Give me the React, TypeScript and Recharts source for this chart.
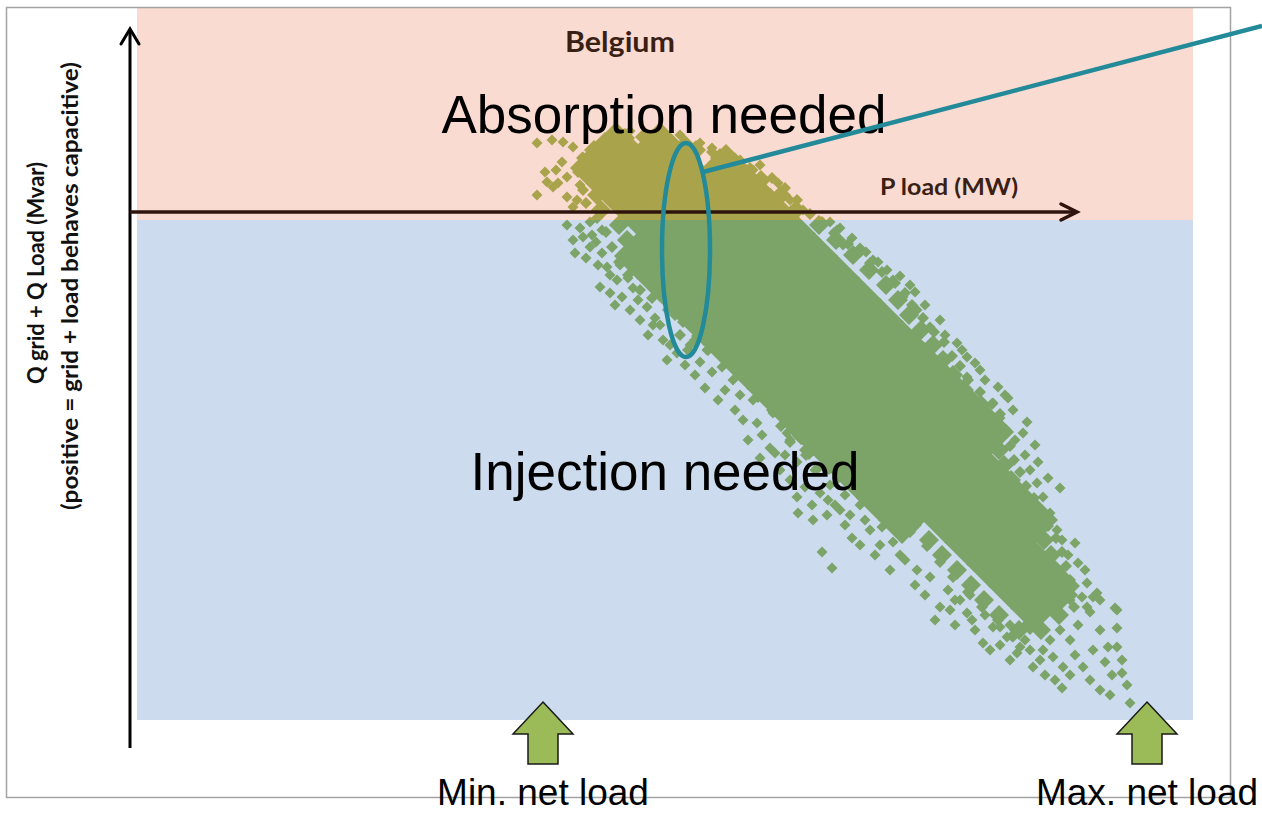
import { ReferenceArea, Scatter, ScatterChart, XAxis, YAxis } from "recharts";

// P load (x) against Q grid + Q load (y).
// x origin sits on the vertical axis, y origin on the P load axis.

// dense middle of the cloud
const denseCore: [number, number][] = [
  [485, 66], [529, 66],
  [463, 44], [507, 44], [551, 44], [595, 44],
  [485, 22], [529, 22], [573, 22], [617, 22],
  [507, 0], [551, 0], [595, 0], [639, 0],
  [529, -22], [573, -22], [617, -22], [661, -22],
  [507, -44], [551, -44], [595, -44], [639, -44], [683, -44],
  [529, -66], [573, -66], [617, -66], [661, -66], [705, -66],
  [551, -88], [595, -88], [639, -88], [683, -88], [727, -88],
  [573, -110], [617, -110], [661, -110], [705, -110], [749, -110],
  [595, -132], [639, -132], [683, -132], [727, -132], [771, -132],
  [617, -154], [661, -154], [705, -154], [749, -154], [793, -154],
  [639, -176], [683, -176], [727, -176], [771, -176], [815, -176],
  [661, -198], [705, -198], [749, -198], [793, -198], [837, -198],
  [683, -220], [727, -220], [771, -220], [815, -220], [859, -220],
  [705, -242], [749, -242], [793, -242], [837, -242],
  [727, -264], [771, -264], [815, -264], [859, -264],
  [749, -286], [793, -286], [837, -286], [881, -286],
  [771, -308], [815, -308], [859, -308], [903, -308],
  [837, -330], [881, -330],
  [859, -352], [903, -352],
  [881, -374], [925, -374],
  [903, -396],
];

// lower-left border of the dense band
const edgeLow: [number, number][] = [
  [463, 62], [461, 47], [463, 32], [466, 17], [470, 2], [488, -13], [496, -28],
  [503, -43], [510, -58], [526, -73], [541, -88], [561, -103], [580, -118],
  [593, -133], [606, -148], [620, -163], [633, -178], [648, -193], [661, -208],
  [670, -223], [678, -238], [698, -253], [723, -268], [743, -283], [763, -298],
  [781, -313], [798, -328], [811, -343], [826, -358], [840, -373], [853, -388],
  [868, -403], [888, -418],
];

// upper-right border of the dense band
const edgeHigh: [number, number][] = [
  [474, 70], [494, 74], [514, 75], [534, 72], [554, 67], [589, 54],
  [565, 62], [605, 47], [630, 32], [650, 17], [665, 2], [688, -13], [705, -28],
  [722, -43], [738, -58], [755, -73], [767, -88], [778, -103], [790, -118],
  [802, -133], [812, -148], [822, -163], [833, -178], [850, -193], [860, -208],
  [864, -223], [868, -238], [873, -253], [880, -268], [888, -283], [898, -298],
  [905, -313], [913, -328], [920, -343], [924, -358], [927, -373], [930, -388],
  [928, -403], [910, -418], [899, -413],
];

// ragged points just outside the lower-left border
const fringeLow: [number, number][] = [
  [451, 54], [447, 40], [452, 22], [455, 9], [466, -6], [475, -20], [481, -35],
  [488, -50], [497, -63], [509, -78], [521, -86], [537, -98], [552, -110],
  [566, -124], [577, -138], [591, -144], [604, -156], [617, -171], [627, -185],
  [641, -198], [650, -214], [659, -230], [675, -243], [687, -256], [707, -266],
  [725, -278], [745, -291], [762, -306], [779, -320], [796, -334], [809, -350],
  [822, -365], [837, -380], [851, -395], [867, -408], [881, -424],
  [544, -103], [559, -113], [549, -123], [564, -128], [557, -138],
];

// ragged points just outside the upper-right border
const fringeHigh: [number, number][] = [
  [581, 60], [599, 54], [619, 44], [641, 34], [654, 24], [666, 12], [679, -2],
  [691, -10], [703, -21], [717, -32], [729, -40], [739, -51], [751, -60],
  [764, -71], [774, -81], [781, -93], [792, -106], [803, -120], [813, -130],
  [821, -144], [829, -154], [837, -168], [849, -180], [861, -192], [869, -202],
  [875, -218], [879, -234], [883, -248], [889, -260], [895, -274], [903, -286],
  [910, -300], [917, -314], [925, -326], [931, -340], [935, -354], [939, -368],
  [941, -383], [943, -395],
];

// single hours above the P axis
const outliersTop: [number, number][] = [
  [406, 69], [421, 72], [432, 70], [442, 65], [452, 55], [431, 50], [416, 30],
  [422, 25], [406, 17], [436, 15], [427, 29], [436, 35], [446, 12], [442, 5],
  [414, 40], [425, 42], [447, 42], [449, 27],
  [594, 57], [609, 52], [622, 42], [629, 47], [647, 29], [639, 19], [659, 12],
  [672, 2], [581, 64], [604, 54], [569, 69], [549, 77], [529, 82], [499, 81],
  [481, 79],
];

// single hours on the low side of the band
const outliersLow: [number, number][] = [
  [436, -13], [442, -28], [452, -25], [459, -35], [471, -18], [444, -41],
  [471, -41], [476, -55], [486, -68], [469, -75], [479, -81], [461, -23],
  [489, -53], [502, -76], [507, -88], [516, -95], [524, -106], [522, -113],
  [532, -128], [546, -141], [564, -163], [576, -138], [582, -125], [589, -120],
  [596, -135], [591, -155], [606, -151], [602, -168], [622, -161], [622, -188],
  [636, -175], [649, -188], [604, -198], [612, -208], [626, -211], [642, -201],
  [656, -221], [672, -228], [644, -241], [659, -228],
  [667, -301], [682, -308], [696, -303], [691, -340], [701, -356], [721, -326],
  [734, -308], [751, -315], [762, -330], [769, -343], [786, -358], [799, -365],
  [809, -395], [817, -378], [836, -401], [852, -431], [862, -415], [876, -425],
  [889, -435], [666, -285], [681, -293], [697, -288], [709, -298], [684, -258],
  [699, -273], [714, -283], [729, -293],
  [449, -16], [459, -10], [465, -30], [455, -46], [467, -53], [479, -63],
  [491, -85], [499, -98], [484, -93], [497, -66], [509, -108], [517, -123],
  [529, -113], [539, -133], [536, -148], [554, -153], [559, -133], [569, -150],
  [581, -160], [574, -176], [594, -178], [609, -183], [587, -188], [617, -228],
  [631, -223], [639, -236], [654, -243], [629, -246], [666, -250], [649, -258],
  [659, -268], [674, -275], [689, -281], [704, -293], [719, -303], [739, -318],
  [749, -333], [774, -348], [784, -373], [794, -383], [819, -398], [824, -413],
  [844, -418], [859, -438], [714, -313], [729, -333], [744, -343], [759, -358],
  [804, -408], [824, -388],
];

// single hours on the high side
const outliersHigh: [number, number][] = [
  [699, -10], [706, -18], [712, -33], [729, -36], [742, -48], [756, -58],
  [762, -68], [779, -73], [772, -85], [786, -98], [799, -115], [826, -131],
  [836, -145], [844, -151], [867, -175], [862, -191], [874, -183], [882, -198],
  [896, -210], [892, -221], [904, -233], [907, -250], [929, -276], [912, -285],
  [919, -301], [926, -318], [944, -331], [947, -351], [956, -371], [962, -385],
  [984, -396], [836, -165], [906, -271],
  [709, -16], [721, -26], [735, -40], [747, -50], [769, -64], [784, -80],
  [794, -93], [809, -108], [814, -123], [831, -138], [849, -158], [854, -168],
  [877, -186], [869, -206], [884, -228], [894, -243], [899, -258], [917, -266],
  [914, -308], [931, -328], [937, -343], [954, -358], [939, -388], [959, -400],
  [969, -388],
];

// the far end of the cloud, towards maximum net load
const outliersTail: [number, number][] = [
  [841, -408], [869, -415], [882, -425], [886, -441], [902, -455], [912, -438],
  [922, -445], [932, -455], [952, -455], [962, -438], [974, -450], [977, -435],
  [986, -435], [966, -381], [956, -395], [986, -398], [986, -416], [991, -461],
  [996, -473], [999, -491], [931, -476], [951, -385], [939, -428], [944, -443],
  [919, -428], [899, -438], [909, -448], [929, -418], [969, -418], [947, -413],
  [869, -433], [879, -448], [894, -428], [914, -463], [924, -468], [939, -463],
  [959, -468], [969, -478], [981, -463], [979, -483], [991, -448], [879, -413],
  [854, -403], [829, -388], [839, -383],
];

const W = 1262;
const H = 814;
const POINT = "#9BBB59";

const toRows = (pts: [number, number][]) => pts.map(([x, y]) => ({ x, y }));

const diamond = (r: number) => (props: any) => {
  const { cx, cy } = props;
  if (cx == null || cy == null) return <g />;
  return (
    <path
      d={`M${cx},${cy - r}L${cx + r},${cy}L${cx},${cy + r}L${cx - r},${cy}Z`}
      fill={POINT}
    />
  );
};

const LABEL_FONT = "Lato, 'Open Sans', sans-serif";
const BIG_FONT = "'Liberation Sans', Arial, sans-serif";

function Annotations() {
  return (
    <svg
      width={W}
      height={H}
      style={{ position: "absolute", left: 0, top: 0, pointerEvents: "none" }}
    >
      <rect x={6.5} y={7.5} width={1224} height={790} fill="none" stroke="#a3a3a3" strokeWidth={1.5} />

      {/* Q axis */}
      <line x1={130} y1={30} x2={130} y2={748} stroke="#000" strokeWidth={3} />
      <polyline points="121,44 130,29 139,44" fill="none" stroke="#000" strokeWidth={3} strokeLinecap="round" />

      {/* P axis */}
      <line x1={130} y1={212} x2={1075} y2={212} stroke="#2e140c" strokeWidth={3.5} />
      <polyline points="1061,204 1077,212 1061,220" fill="none" stroke="#2e140c" strokeWidth={3.5} strokeLinecap="round" />

      <text x={620} y={52} textAnchor="middle" fontFamily={LABEL_FONT} fontWeight={700} fontSize={29} textLength={110} lengthAdjust="spacingAndGlyphs" fill="#3a1f14">
        Belgium
      </text>
      <text x={949} y={195} textAnchor="middle" fontFamily={LABEL_FONT} fontWeight={700} fontSize={23} textLength={138} lengthAdjust="spacingAndGlyphs" fill="#3a1f14">
        P load (MW)
      </text>

      <text transform="translate(44,273) rotate(-90)" textAnchor="middle" fontFamily={LABEL_FONT} fontWeight={700} fontSize={22} textLength={222} lengthAdjust="spacingAndGlyphs" fill="#111">
        Q grid + Q Load (Mvar)
      </text>
      <text transform="translate(78,286) rotate(-90)" textAnchor="middle" fontFamily={LABEL_FONT} fontWeight={700} fontSize={22} textLength={448} lengthAdjust="spacingAndGlyphs" fill="#111">
        (positive = grid + load behaves capacitive)
      </text>

      <text x={664} y={133} textAnchor="middle" fontFamily={BIG_FONT} fontSize={53} fill="#000">
        Absorption needed
      </text>
      <text x={665} y={490} textAnchor="middle" fontFamily={BIG_FONT} fontSize={53} fill="#000">
        Injection needed
      </text>

      <ellipse cx={686} cy={250} rx={24} ry={107} fill="none" stroke="#238a99" strokeWidth={4.5} />
      <line x1={703} y1={172} x2={1262} y2={26} stroke="#238a99" strokeWidth={4.5} />

      <polygon
        points="543,702 573,734 558,734 558,764 528,764 528,734 513,734"
        fill="#9BBB59"
        stroke="#1a1a1a"
        strokeWidth={1.5}
      />
      <polygon
        points="1147,702 1177,734 1162,734 1162,764 1132,764 1132,734 1117,734"
        fill="#9BBB59"
        stroke="#1a1a1a"
        strokeWidth={1.5}
      />
      <text x={543} y={805} textAnchor="middle" fontFamily={BIG_FONT} fontSize={37} fill="#000">
        Min. net load
      </text>
      <text x={1147} y={805} textAnchor="middle" fontFamily={BIG_FONT} fontSize={37} fill="#000">
        Max. net load
      </text>
    </svg>
  );
}

export default function App() {
  return (
    <div style={{ position: "absolute", left: 0, top: 0, width: W, height: H, background: "#fff" }}>
      <ScatterChart width={W} height={H} margin={{ top: 0, right: 0, bottom: 0, left: 0 }}>
        <XAxis type="number" dataKey="x" domain={[-131, 1131]} hide allowDataOverflow />
        <YAxis type="number" dataKey="y" domain={[-602, 212]} hide allowDataOverflow />
        <Scatter data={toRows(denseCore)} shape={diamond(24)} isAnimationActive={false} />
        <Scatter data={toRows(edgeLow)} shape={diamond(10)} isAnimationActive={false} />
        <Scatter data={toRows(edgeHigh)} shape={diamond(10)} isAnimationActive={false} />
        <Scatter data={toRows(fringeLow)} shape={diamond(6)} isAnimationActive={false} />
        <Scatter data={toRows(fringeHigh)} shape={diamond(6)} isAnimationActive={false} />
        <Scatter data={toRows(outliersTop)} shape={diamond(5.5)} isAnimationActive={false} />
        <Scatter data={toRows(outliersLow)} shape={diamond(5.5)} isAnimationActive={false} />
        <Scatter data={toRows(outliersHigh)} shape={diamond(5.5)} isAnimationActive={false} />
        <Scatter data={toRows(outliersTail)} shape={diamond(5.5)} isAnimationActive={false} />
        {/* tinted zones laid over the cloud, as in the source slide */}
        <ReferenceArea
          x1={6}
          x2={1062}
          y1={204}
          y2={-8}
          fill="#E14B19"
          fillOpacity={0.2}
          stroke="none"
          ifOverflow="visible"
          zIndex={800}
        />
        <ReferenceArea
          x1={6}
          x2={1062}
          y1={-8}
          y2={-508}
          fill="#004BA5"
          fillOpacity={0.2}
          stroke="none"
          ifOverflow="visible"
          zIndex={800}
        />
      </ScatterChart>
      <Annotations />
    </div>
  );
}
